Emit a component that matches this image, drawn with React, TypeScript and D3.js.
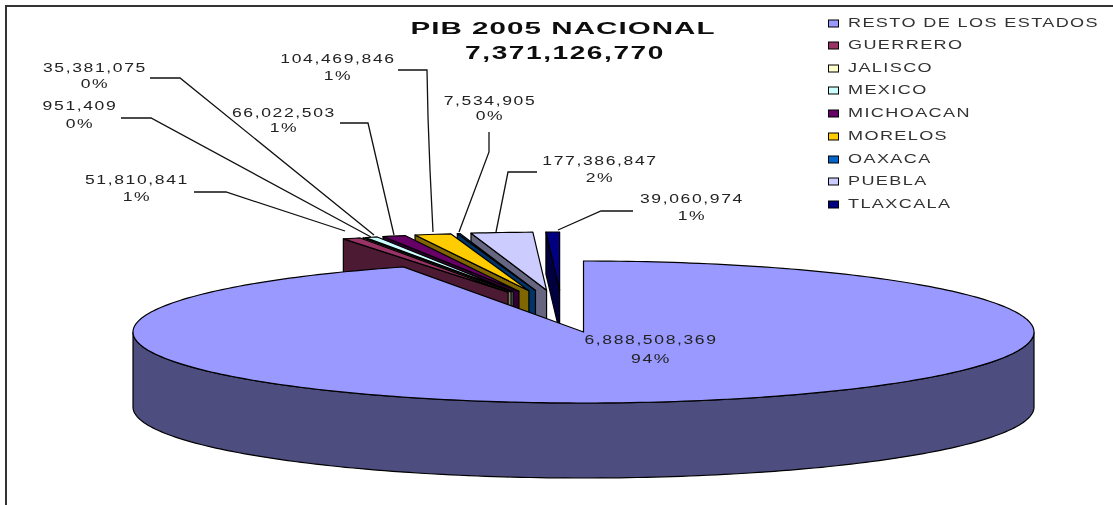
import React from "react";
import * as d3 from "d3";

const categories = ["RESTO DE LOS ESTADOS", "GUERRERO", "JALISCO", "MEXICO", "MICHOACAN", "MORELOS", "OAXACA", "PUEBLA", "TLAXCALA"];
const values = [6888508369, 51810841, 951409, 35381075, 66022503, 104469846, 7534905, 177386847, 39060974];
const valueLabels = ["6,888,508,369", "51,810,841", "951,409", "35,381,075", "66,022,503", "104,469,846", "7,534,905", "177,386,847", "39,060,974"];
const percentLabels = ["94%", "1%", "0%", "0%", "1%", "1%", "0%", "2%", "1%"];
const topColors = ["#9999ff", "#993366", "#ffffcc", "#ccffff", "#660066", "#ffcc00", "#0066cc", "#ccccff", "#000080"];
const wallColors = ["#4d4d80", "#4d1a33", "#808066", "#668080", "#330033", "#806600", "#003366", "#666680", "#000040"];
const titleLines = ["PIB 2005 NACIONAL", "7,371,126,770"];

// label anchor positions [x centre, y first line centre, y second line centre]
const labelPos: number[][] = [[651, 339, 358], [137, 179, 196], [80, 105, 123], [95, 67, 83], [284, 112, 127], [338, 58, 75], [490, 100, 115], [600, 160, 177], [692, 198, 215]];
const leaders: number[][][] = [
  [],
  [[194, 192], [226, 192], [345, 231]],
  [[121, 118], [151, 118], [371, 237]],
  [[150, 78], [180, 78], [374, 235]],
  [[340, 123], [368, 123], [394, 235]],
  [[398, 70], [427, 70], [428, 117], [430, 170], [433, 232]],
  [[489, 132], [489, 152], [459, 232]],
  [[537, 172], [508, 172], [496, 232]],
  [[633, 211], [601, 211], [558, 230]],
];
const legendY = [23, 45, 68, 90, 113, 136, 159, 181, 204];

const main = { cx: 583.5, cy: 332, rx: 450.5, ry: 71, depth: 75 };
const small = { cx: 562, cy: 318, rx: 412, ry: 58, ex: 142, ey: 28, depth: 42 };

const pie = d3.pie<number>().sort(null).startAngle(0).endAngle(Math.PI * 2);
const arcs = pie(values);
const line = d3.line<number[]>();

function rimPoints(cx: number, cy: number, rx: number, ry: number, a0: number, a1: number, dy = 0) {
  const n = Math.max(2, Math.ceil(Math.abs(a1 - a0) / 0.02));
  return d3.range(n + 1).map((i) => {
    const a = a0 + ((a1 - a0) * i) / n;
    return [cx + rx * Math.sin(a), cy - ry * Math.cos(a) + dy];
  });
}

function Txt({ x, y, s, size, sx, ls, weight, fill, anchor }: any) {
  return (
    <text transform={`translate(${x},${y}) scale(${sx},1)`} fontSize={size} letterSpacing={ls} fontWeight={weight} fill={fill} textAnchor={anchor} dominantBaseline="central" fontFamily="'Liberation Sans', Arial, sans-serif">
      {s}
    </text>
  );
}

export default function App() {
  const m = arcs[0];
  const mainTop = rimPoints(main.cx, main.cy, main.rx, main.ry, m.startAngle, m.endAngle);
  const mainPath = line([[main.cx, main.cy], ...mainTop]) + "Z";
  const wallA0 = Math.PI / 2;
  const wallA1 = (Math.PI * 3) / 2;
  const wallPath = line([
    ...rimPoints(main.cx, main.cy, main.rx, main.ry, wallA0, wallA1),
    ...rimPoints(main.cx, main.cy, main.rx, main.ry, wallA1, wallA0, main.depth),
  ]) + "Z";

  const wedges = arcs.slice(1).map((d, i) => {
    const mid = (d.startAngle + d.endAngle) / 2;
    const cx = small.cx + small.ex * Math.sin(mid);
    const cy = small.cy - small.ey * Math.cos(mid);
    const rim = rimPoints(cx, cy, small.rx, small.ry, d.startAngle, d.endAngle);
    const top = line([[cx, cy], ...rim]) + "Z";
    const l = rim[0];
    const wall = line([l, [cx, cy], [cx, cy + small.depth], [l[0], l[1] + small.depth]]) + "Z";
    return { top, wall, fill: topColors[i + 1], wallFill: wallColors[i + 1], key: categories[i + 1] };
  }).reverse();

  return (
    <svg width={1113} height={505} style={{ position: "absolute", left: 0, top: 0, background: "#fff" }}>
      <defs>
        <filter id="soft" x="-5%" y="-20%" width="110%" height="140%">
          <feGaussianBlur stdDeviation="0.6" />
        </filter>
      </defs>
      <path d="M6,505V6H1113" fill="none" stroke="#333" strokeWidth={2} />

      {wedges.map((w) => (
        <g key={w.key} stroke="#000" strokeWidth={1.2} strokeLinejoin="round">
          <path d={w.wall} fill={w.wallFill} />
          <path d={w.top} fill={w.fill} />
        </g>
      ))}

      <path d={wallPath} fill={wallColors[0]} stroke="#000" strokeWidth={1.2} />
      <path d={mainPath} fill={topColors[0]} stroke="#000" strokeWidth={1.2} />

      {leaders.map((p, i) => p.length > 0 && <path key={i} d={line(p)!} fill="none" stroke="#111" strokeWidth={1.3} />)}

      <g filter="url(#soft)">
        <Txt x={563} y={28.5} s={titleLines[0]} size={17} sx={1.74} ls={0.6} weight={700} fill="#111" anchor="middle" />
        <Txt x={565} y={53} s={titleLines[1]} size={18} sx={1.56} ls={1} weight={700} fill="#111" anchor="middle" />
        {valueLabels.map((s, i) => (
          <g key={s}>
            <Txt x={labelPos[i][0]} y={labelPos[i][1]} s={s} size={13} sx={1.35} ls={1.2} fill="#222" anchor="middle" />
            <Txt x={labelPos[i][0]} y={labelPos[i][2]} s={percentLabels[i]} size={13} sx={1.35} ls={1.2} fill="#222" anchor="middle" />
          </g>
        ))}
        {categories.map((c, i) => (
          <Txt key={c} x={848} y={legendY[i] - 1} s={c} size={13} sx={1.39} ls={1} fill="#333" anchor="start" />
        ))}
      </g>
      {categories.map((c, i) => (
        <rect key={c} x={828.5} y={legendY[i] - 3} width={10} height={7} fill={topColors[i]} stroke="#000" strokeWidth={1} />
      ))}
    </svg>
  );
}
